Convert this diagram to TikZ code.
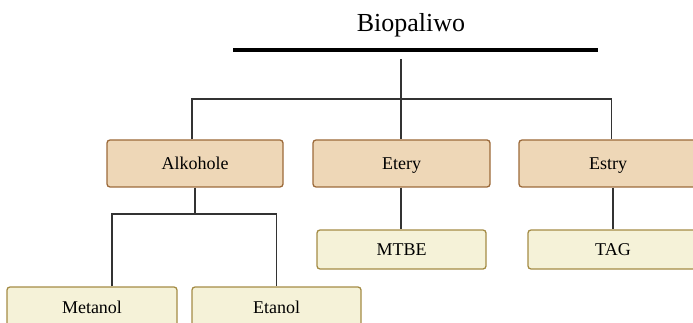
\documentclass[tikz,border=0pt]{standalone}
\usepackage{fontspec}
\setmainfont{Liberation Serif}
\definecolor{brfill}{HTML}{EED7B7}
\definecolor{brdraw}{HTML}{9C6A3A}
\definecolor{yfill}{HTML}{F5F2D8}
\definecolor{ydraw}{HTML}{A48C45}
\definecolor{conn}{HTML}{333333}
\begin{document}
\begin{tikzpicture}[x=1pt,y=-1pt,
  catbox/.style={draw=brdraw,fill=brfill,line width=1.3pt,rounded corners=3pt,minimum width=176pt,minimum height=47pt,inner sep=0pt,text height=12pt,text depth=0pt,font=\fontsize{18pt}{20pt}\selectfont},
  leafbox/.style={draw=ydraw,fill=yfill,line width=1.3pt,rounded corners=3pt,minimum width=169pt,minimum height=39pt,inner sep=0pt,text height=12pt,text depth=0pt,font=\fontsize{18pt}{20pt}\selectfont},
  link/.style={draw=conn,line width=1.4pt}]
\useasboundingbox (0,0) rectangle (693,323);
\clip (0,0) rectangle (693,323);
\node[font=\fontsize{26pt}{30pt}\selectfont,text height=17pt,text depth=0pt,inner sep=0pt] (title) at (411,23.5) {Biopaliwo};
\coordinate (bl) at (233,50);
\coordinate (br) at (598,50);
\draw[line width=4pt] (bl) -- (br);
\coordinate (top) at (401,59);
\coordinate (hub) at (401,99);
\node[catbox] (alk) at (195,163.5) {Alkohole};
\node[catbox,minimum width=177pt] (ety) at (401.5,163.5) {Etery};
\node[catbox,minimum width=178pt] (est) at (608,163.5) {Estry};
\node[leafbox] (mtbe) at (401.5,249.5) {MTBE};
\node[leafbox,minimum width=170pt] (tag) at (613,249.5) {TAG};
\node[leafbox,minimum width=170pt,minimum height=40pt] (met) at (92,307) {Metanol};
\node[leafbox,minimum height=40pt] (eta) at (276.5,307) {Etanol};
\coordinate (split) at (195,214);
\draw[link] (top) -- (top |- ety.north);
\draw[link] ([xshift=-3pt]alk.north) |- (hub) -| ([xshift=3.5pt]est.north);
\draw[link] (alk.south) -- (split);
\draw[link] ([xshift=20pt]met.north) |- (split) -| (eta.north);
\draw[link] (top |- ety.south) -- (top |- mtbe.north);
\draw[link] (tag.north |- est.south) -- (tag.north);
\end{tikzpicture}
\end{document}
